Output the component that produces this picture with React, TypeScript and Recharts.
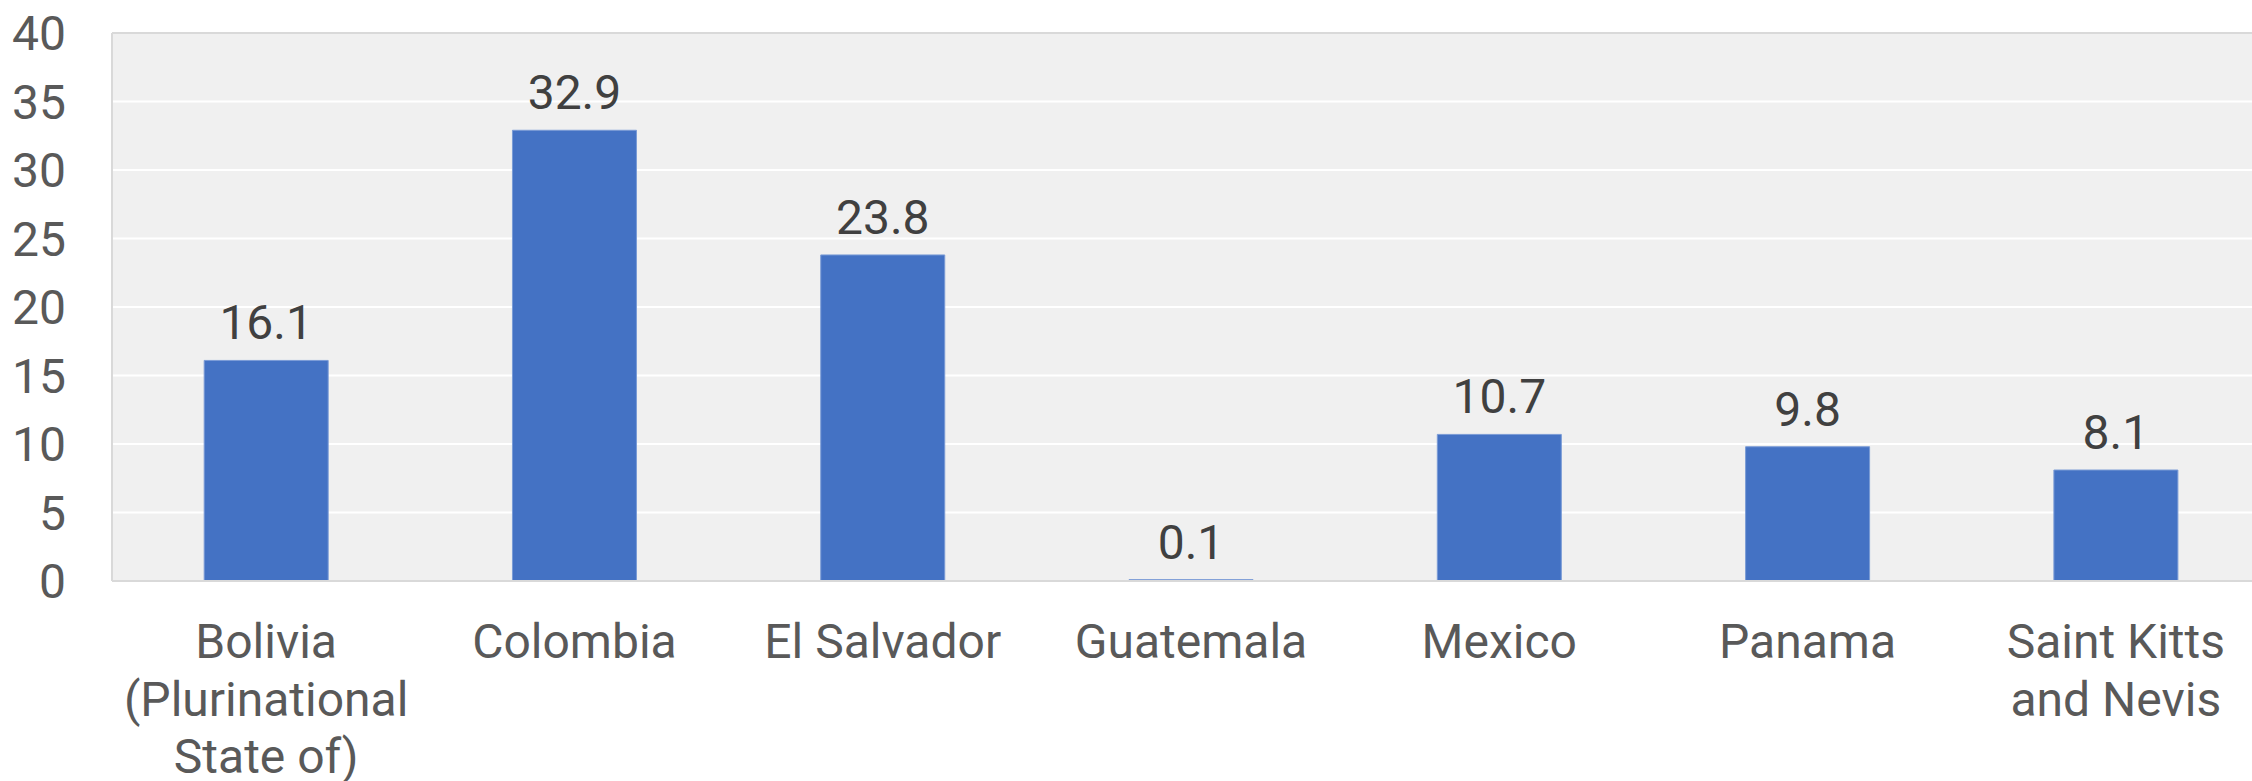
import React from 'react';
import { BarChart, Bar, XAxis, YAxis, CartesianGrid, LabelList, ReferenceLine } from 'recharts';

const categories = [
  'Bolivia (Plurinational State of)',
  'Colombia',
  'El Salvador',
  'Guatemala',
  'Mexico',
  'Panama',
  'Saint Kitts and Nevis',
];
const values = [16.1, 32.9, 23.8, 0.1, 10.7, 9.8, 8.1];
const yTicks = [0, 5, 10, 15, 20, 25, 30, 35, 40];

const chartData = categories.map((name, i) => ({ name, value: values[i] }));

// greedy word wrap by character count
function wrap(label: string, max = 14) {
  const lines: string[] = [];
  let cur = '';
  label.split(' ').forEach(w => {
    const next = cur ? `${cur} ${w}` : w;
    if (next.length > max && cur) {
      lines.push(cur);
      cur = w;
    } else {
      cur = next;
    }
  });
  if (cur) lines.push(cur);
  return lines;
}

const CategoryTick = (props: any) => {
  const { x, y, payload } = props;
  const lines = wrap(payload.value);
  return (
    <text x={x} y={y + 77} textAnchor="middle" fill="#595959" fontSize={48} fontFamily="Roboto">
      {lines.map((l, i) => (
        <tspan key={i} x={x} dy={i === 0 ? 0 : 57.5}>{l}</tspan>
      ))}
    </text>
  );
};

export default function App() {
  return (
    <div style={{ position: 'absolute', left: 0, top: 0, width: 2252, height: 781, overflow: 'hidden', background: '#fff' }}>
      <BarChart
        width={2270}
        height={781}
        data={chartData}
        margin={{ top: 33, right: 0, left: 0, bottom: 0 }}
        barCategoryGap="29.9%"
      >
        <CartesianGrid vertical={false} stroke="#ffffff" strokeWidth={2} fill="#f0f0f0" />
        <XAxis
          dataKey="name"
          height={200}
          interval={0}
          axisLine={{ stroke: '#d9d9d9', strokeWidth: 2 }}
          tickLine={false}
          tickSize={0}
          tickMargin={0}
          tick={<CategoryTick />}
        />
        <YAxis
          domain={[0, 40]}
          ticks={yTicks}
          width={112}
          axisLine={{ stroke: '#d9d9d9', strokeWidth: 2 }}
          tickLine={false}
          tickSize={0}
          tickMargin={46}
          tick={{ fontSize: 48, fill: '#595959', fontFamily: 'Roboto' }}
        />
        <ReferenceLine y={40} stroke="#d9d9d9" strokeWidth={2} />
        <Bar dataKey="value" fill="#4472c4" stroke="#7a9bd6" strokeWidth={1} isAnimationActive={false}>
          <LabelList
            dataKey="value"
            position="top"
            offset={21}
            fill="#404040"
            fontSize={48}
            fontFamily="Roboto"
          />
        </Bar>
      </BarChart>
    </div>
  );
}
